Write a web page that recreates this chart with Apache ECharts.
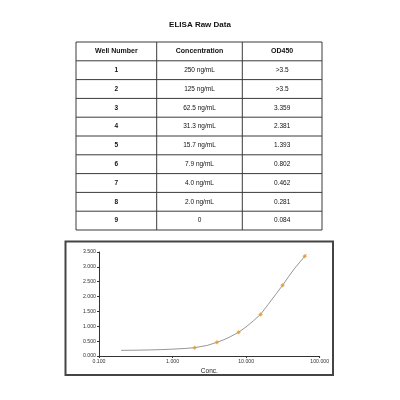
<!DOCTYPE html>
<html>
<head>
<meta charset="utf-8">
<script src="https://cdn.jsdelivr.net/npm/echarts@6/dist/echarts.min.js"></script>
<style>
html,body{margin:0;padding:0;background:#fff;}
#c{width:400px;height:400px;}
</style>
</head>
<body>
<div id="c"></div>
<script>
// ---- data ----
const tableTitle = 'ELISA Raw Data';
const headers = ['Well Number', 'Concentration', 'OD450'];
const wells = ['1', '2', '3', '4', '5', '6', '7', '8', '9'];
const concLabels = ['250 ng/mL', '125 ng/mL', '62.5 ng/mL', '31.3 ng/mL', '15.7 ng/mL', '7.9 ng/mL', '4.0 ng/mL', '2.0 ng/mL', '0'];
const odLabels = ['>3.5', '>3.5', '3.359', '2.381', '1.393', '0.802', '0.462', '0.281', '0.084'];

const pointConc = [2.0, 4.0, 7.9, 15.7, 31.3, 62.5];
const pointOD = [0.281, 0.462, 0.802, 1.393, 2.381, 3.359];

// fitted curve
const curveConc = [0.2, 0.3, 0.5, 0.7, 1.0, 1.5, 2.0, 3.0, 4.0, 5.0, 6.0, 7.9, 10, 12.5, 15.7, 20, 25, 31.3, 38, 45, 55, 66];
const curveOD = [0.19, 0.195, 0.205, 0.215, 0.23, 0.255, 0.28, 0.36, 0.46, 0.55, 0.64, 0.80, 0.98, 1.18, 1.40, 1.74, 2.06, 2.38, 2.68, 2.93, 3.19, 3.42];

const xAxisName = 'Conc.';

// ---- layout ----
const FONT = 'Liberation Sans, Arial, sans-serif';
const colX = [76, 156.7, 242.3, 322];
const tTop = 42, rowH = 18.8;
const lineColor = '#3a3a3a';

const graphic = [];
graphic.push({
  type: 'text', left: 'center', top: 21,
  style: { text: tableTitle, font: 'bold 8px ' + FONT, fill: '#111' }
});
const nRows = wells.length + 1;
const tBottom = tTop + rowH * nRows;
for (let i = 0; i <= nRows; i++) {
  const y = tTop + rowH * i;
  graphic.push({ type: 'line', shape: { x1: colX[0], y1: y, x2: colX[3], y2: y }, style: { stroke: lineColor, lineWidth: 1 } });
}
for (let j = 0; j < colX.length; j++) {
  graphic.push({ type: 'line', shape: { x1: colX[j], y1: tTop, x2: colX[j], y2: tBottom }, style: { stroke: lineColor, lineWidth: 1 } });
}
function cellText(txt, col, row, bold, size) {
  graphic.push({
    type: 'text',
    x: (colX[col] + colX[col + 1]) / 2,
    y: tTop + rowH * row + rowH / 2,
    style: { text: txt, font: (bold ? 'bold ' : '') + size + 'px ' + FONT, fill: '#111', align: 'center', verticalAlign: 'middle' }
  });
}
headers.forEach((h, j) => cellText(h, j, 0, true, 7));
wells.forEach((w, i) => {
  cellText(w, 0, i + 1, true, 6.5);
  cellText(concLabels[i], 1, i + 1, false, 6.5);
  cellText(odLabels[i], 2, i + 1, false, 6.5);
});
// chart frame
graphic.push({
  type: 'rect', shape: { x: 65.5, y: 241.5, width: 267.5, height: 133.5 },
  style: { fill: 'none', stroke: '#444', lineWidth: 2 }, z: -1
});

const chart = echarts.init(document.getElementById('c'), null, { renderer: 'canvas' });
chart.setOption({
  animation: false,
  backgroundColor: '#fff',
  graphic: graphic,
  grid: { left: 99, right: 80.3, top: 252, bottom: 44, containLabel: false },
  xAxis: {
    type: 'log', logBase: 10, min: 0.1, max: 100,
    name: xAxisName, nameLocation: 'middle', nameGap: 12,
    nameTextStyle: { fontFamily: FONT, fontSize: 6.5, color: '#222' },
    axisLine: { lineStyle: { color: '#333', width: 1 } },
    axisTick: { show: true, length: 2, lineStyle: { color: '#333' } },
    minorTick: { show: false },
    splitLine: { show: false },
    axisLabel: { fontFamily: FONT, fontSize: 5.2, color: '#333', margin: 3, formatter: v => Number(v).toFixed(3) }
  },
  yAxis: {
    type: 'value', min: 0, max: 3.5, interval: 0.5,
    axisLine: { show: true, lineStyle: { color: '#333', width: 1 } },
    axisTick: { show: true, length: 2, lineStyle: { color: '#333' } },
    splitLine: { show: false },
    axisLabel: { fontFamily: FONT, fontSize: 5.2, color: '#333', margin: 3, formatter: v => v.toFixed(3) }
  },
  series: [
    {
      type: 'line', smooth: false, showSymbol: false,
      data: curveConc.map((c, i) => [c, curveOD[i]]),
      lineStyle: { color: '#8a8a8a', width: 0.9 },
      z: 2
    },
    {
      type: 'scatter', symbol: 'diamond', symbolSize: 4.5,
      data: pointConc.map((c, i) => [c, pointOD[i]]),
      itemStyle: { color: '#e39a2d' },
      z: 3
    }
  ]
});
</script>
</body>
</html>
